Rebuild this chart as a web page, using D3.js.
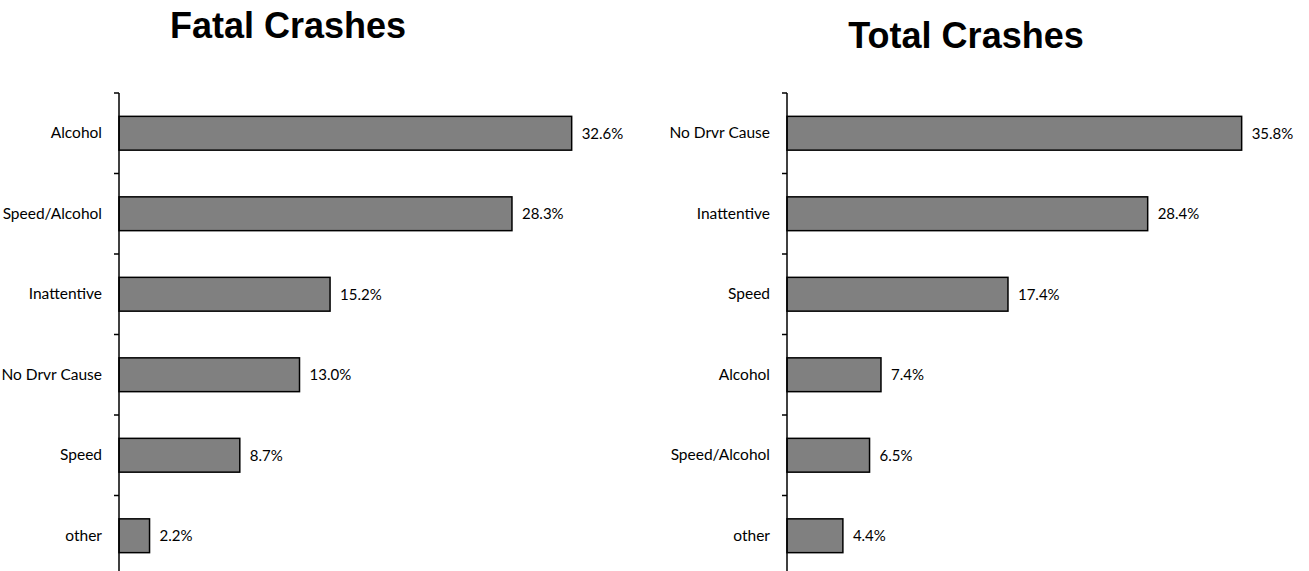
<!DOCTYPE html>
<html>
<head>
<meta charset="utf-8">
<script src="https://cdn.jsdelivr.net/npm/d3@7"></script>
<style>
  body { margin: 0; background: #fff; }
  svg { display: block; }
  .cat { font-family: Lato, "DejaVu Sans Condensed", sans-serif; font-size: 15.5px; fill: #000; }
  .val { font-family: Lato, "DejaVu Sans Condensed", sans-serif; font-size: 15px; fill: #000; }
  .title { font-family: "Liberation Sans", Arial, sans-serif; font-weight: bold; font-size: 36px; fill: #000; }
</style>
</head>
<body>
<div id="viz"></div>
<script>
// fatal crashes by cause (percent)
var fatalCauses = ["Alcohol", "Speed/Alcohol", "Inattentive", "No Drvr Cause", "Speed", "other"];
var fatalPct = [32.6, 28.3, 15.2, 13.0, 8.7, 2.2];

// total crashes by cause (percent)
var totalCauses = ["No Drvr Cause", "Inattentive", "Speed", "Alcohol", "Speed/Alcohol", "other"];
var totalPct = [35.8, 28.4, 17.4, 7.4, 6.5, 4.4];

var width = 1309, height = 571;

var svg = d3.select("#viz")
  .append("svg")
  .attr("width", width)
  .attr("height", height);

function drawPanel(title, causes, values, opt) {
  var g = svg.append("g");

  var x = d3.scaleLinear().domain([0, opt.xmax]).range([opt.left, opt.right]);
  var y = d3.scaleBand()
    .domain(causes)
    .range([93, 576])
    .paddingInner(0.58)
    .paddingOuter(0.29);

  // title
  g.append("text")
    .attr("class", "title")
    .attr("x", opt.titleX)
    .attr("y", opt.titleY)
    .attr("text-anchor", "middle")
    .text(title);

  // bars
  g.selectAll("rect")
    .data(values)
    .join("rect")
    .attr("x", x(0))
    .attr("y", (d, i) => y(causes[i]))
    .attr("width", d => x(d) - x(0))
    .attr("height", y.bandwidth())
    .attr("fill", "#808080")
    .attr("stroke", "#000")
    .attr("stroke-width", 1.5);

  // value labels
  g.selectAll(".val")
    .data(values)
    .join("text")
    .attr("class", "val")
    .attr("x", d => x(d) + 10)
    .attr("y", (d, i) => y(causes[i]) + y.bandwidth() / 2)
    .attr("dy", "0.35em")
    .text(d => d3.format(".1f")(d) + "%");

  // axis: labels from d3.axisLeft, ticks drawn at band edges
  var axis = g.append("g")
    .attr("transform", "translate(" + x(0) + ",0)")
    .call(d3.axisLeft(y).tickSize(0).tickPadding(17));
  axis.select(".domain").remove();
  axis.selectAll("text").attr("class", "cat").attr("font-size", null).attr("font-family", null);

  var edges = d3.range(causes.length + 1).map(i => y.range()[0] + i * y.step());
  g.append("line")
    .attr("x1", x(0)).attr("x2", x(0))
    .attr("y1", edges[0]).attr("y2", edges[edges.length - 1])
    .attr("stroke", "#000").attr("stroke-width", 1.5);
  g.selectAll(".tk")
    .data(edges)
    .join("line")
    .attr("class", "tk")
    .attr("x1", x(0) - 5).attr("x2", x(0))
    .attr("y1", d => d).attr("y2", d => d)
    .attr("stroke", "#000").attr("stroke-width", 1.5);
}

drawPanel("Fatal Crashes", fatalCauses, fatalPct,
  {left: 119, right: 605, xmax: 35, titleX: 288, titleY: 38});
drawPanel("Total Crashes", totalCauses, totalPct,
  {left: 787, right: 1295, xmax: 40, titleX: 966, titleY: 48});
</script>
</body>
</html>
